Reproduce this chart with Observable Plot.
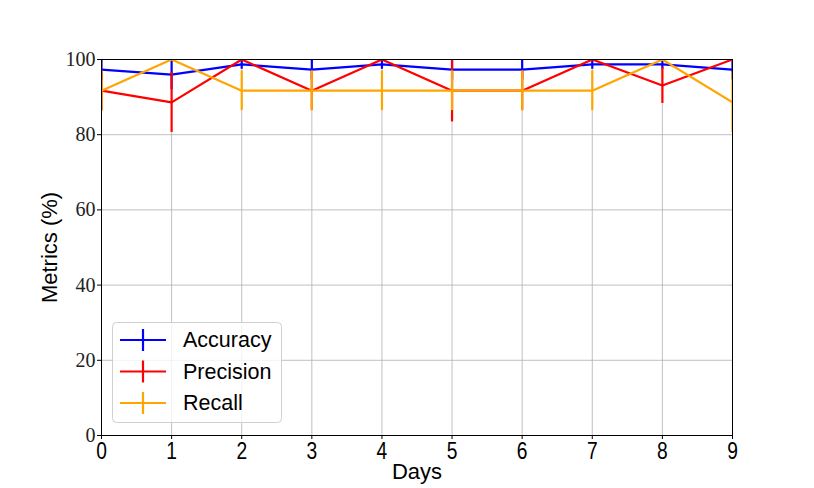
<!DOCTYPE html>
<html>
<head>
<meta charset="utf-8">
<script src="https://cdn.jsdelivr.net/npm/d3@7"></script>
<script src="https://cdn.jsdelivr.net/npm/@observablehq/plot@0.6"></script>
<style>
  html, body { margin: 0; padding: 0; background: #fff; }
  #wrap { position: relative; width: 814px; height: 488px; }
  #legend { position: absolute; left: 112px; top: 322px; }
</style>
</head>
<body>
<div id="wrap"></div>
<script>
const days = [0, 1, 2, 3, 4, 5, 6, 7, 8, 9];
const accuracy  = [97.3, 96.0, 98.7, 97.3, 98.7, 97.3, 97.3, 98.7, 98.7, 97.3];
const accErr    = [2.7, 4.0, 1.3, 2.7, 1.3, 2.7, 2.7, 1.3, 1.3, 2.7];
const precision = [91.7, 88.6, 100, 91.7, 100, 91.7, 91.7, 100, 93.1, 100];
const precErr   = [5.3, 8.0, 0, 5.3, 0, 8.3, 5.3, 0, 4.8, 0];
const recall    = [91.7, 100, 91.7, 91.7, 91.7, 91.7, 91.7, 91.7, 100, 88.6];
const recErr    = [5.3, 0, 5.3, 5.3, 5.3, 5.3, 5.3, 5.3, 0, 8.0];
const yTicks = [0, 20, 40, 60, 80, 100];

const series = [
  {name: "Accuracy", color: "#0000ff", values: accuracy, errs: accErr},
  {name: "Precision", color: "#ff0000", values: precision, errs: precErr},
  {name: "Recall", color: "#ffa500", values: recall, errs: recErr}
];

const marks = [
  Plot.ruleX(days, {stroke: "#b0b0b0", strokeWidth: 0.8}),
  Plot.ruleY(yTicks, {stroke: "#b0b0b0", strokeWidth: 0.8})
];
for (const s of series) {
  const rows = days.map((d, i) => ({day: d, v: s.values[i], e: s.errs[i]}));
  marks.push(Plot.line(rows, {x: "day", y: "v", stroke: s.color, strokeWidth: 2.2, clip: true}));
  marks.push(Plot.ruleX(rows.filter(r => r.e > 0), {x: "day", y1: r => r.v - r.e, y2: r => r.v + r.e, stroke: s.color, strokeWidth: 2.2, clip: true}));
}
marks.push(Plot.frame({stroke: "#000", strokeWidth: 1}));
marks.push(Plot.axisY(yTicks, {tickSize: 4, tickPadding: 2, fontSize: 20, fontFamily: "Liberation Serif, DejaVu Serif, serif", fill: "#222", label: null}));
marks.push(Plot.axisX(days, {tickSize: 4, tickPadding: 2, fontSize: 24, fontFamily: "Liberation Sans, sans-serif", label: null}));
marks.push(Plot.text(["Days"], {frameAnchor: "bottom", dy: 43, fontSize: 22, fontFamily: "Liberation Sans, sans-serif", fill: "#000", text: d => d}));
marks.push(Plot.text(["Metrics (%)"], {frameAnchor: "left", textAnchor: "middle", dx: -52, rotate: -90, fontSize: 22, fontFamily: "Liberation Sans, sans-serif", fill: "#000", text: d => d}));

const chart = Plot.plot({
  width: 814,
  height: 488,
  marginLeft: 101,
  marginRight: 82,
  marginTop: 59,
  marginBottom: 53,
  x: {domain: [0, 9], axis: null},
  y: {domain: [0, 100], axis: null},
  style: {background: "#fff", overflow: "visible"},
  marks
});
document.getElementById("wrap").appendChild(chart);

// condense x tick labels horizontally (narrow sans digits as in reference)
d3.select(chart).selectAll('g[aria-label="x-axis tick label"] text').each(function() {
  const t = this.getAttribute("transform") || "";
  this.setAttribute("transform", (t + " scale(0.8,1)").trim());
});

// Legend overlay
const lw = 170, lh = 101;
const lg = d3.select("#wrap").append("svg").attr("id", "legend")
  .attr("width", lw).attr("height", lh);
lg.append("rect").attr("x", 0.5).attr("y", 0.5).attr("width", lw - 1).attr("height", lh - 1)
  .attr("rx", 4).attr("fill", "rgba(255,255,255,0.8)").attr("stroke", "#d0d0d0");
series.forEach((s, i) => {
  const cy = 18 + i * 31.5;
  const g = lg.append("g");
  g.append("line").attr("x1", 8).attr("x2", 54).attr("y1", cy).attr("y2", cy).attr("stroke", s.color).attr("stroke-width", 2.2);
  g.append("line").attr("x1", 31).attr("x2", 31).attr("y1", cy - 11).attr("y2", cy + 11).attr("stroke", s.color).attr("stroke-width", 2.2);
  g.append("text").attr("x", 71).attr("y", cy + 7).attr("font-size", 21.5)
    .attr("font-family", "Liberation Sans, sans-serif").attr("fill", "#000").text(s.name);
});
</script>
</body>
</html>
